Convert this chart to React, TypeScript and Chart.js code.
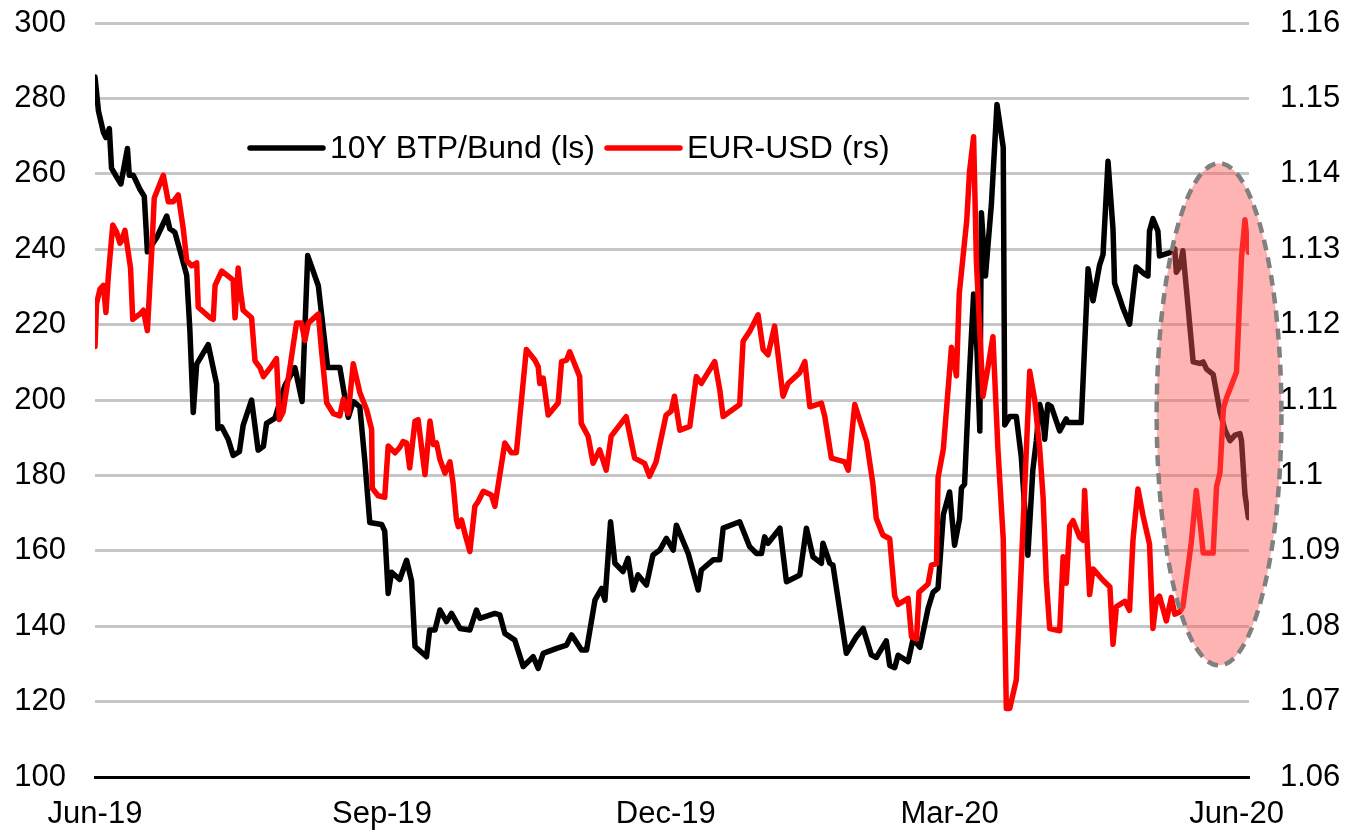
import { useEffect, useRef } from 'react';
import { Chart, registerables } from 'chart.js';

Chart.register(...registerables);

const FONT = "'Liberation Sans', Arial, Helvetica, sans-serif";

// x values are days counted from 1 Jun 2019
const xTickDays = [0, 92, 183, 274, 366];
const xTickLabels = ['Jun-19', 'Sep-19', 'Dec-19', 'Mar-20', 'Jun-20'];
const leftTicks = [100, 120, 140, 160, 180, 200, 220, 240, 260, 280, 300];
const rightTicks = [1.06, 1.07, 1.08, 1.09, 1.1, 1.11, 1.12, 1.13, 1.14, 1.15, 1.16];
const seriesLabels = ['10Y BTP/Bund (ls)', 'EUR-USD (rs)'];

// 10Y BTP/Bund spread, bp (left scale): [day, value]
const btpPoints: [number, number][] = [
  [0, 285.7], [1.1, 276.7], [2.7, 271.0], [3.5, 269.6], [4.6, 272.0], [5.3, 261.5], [6.9, 259.2],
  [8.3, 257.3], [10.4, 266.7], [11.0, 259.6], [12.3, 259.6], [14.4, 255.9], [15.8, 254.0], [16.8, 239.3],
  [19.8, 243.1], [23.0, 248.8], [24.0, 245.4], [25.6, 244.5], [27.2, 239.8], [29.4, 233.1], [30.4, 218.9],
  [31.5, 196.7], [32.6, 209.5], [36.3, 214.7], [39.0, 204.2], [39.4, 192.4], [40.6, 192.9], [42.7, 189.6],
  [44.3, 185.3], [46.3, 186.3], [47.5, 193.3], [50.2, 200.0], [52.3, 186.7], [54.0, 187.7], [55.0, 193.8],
  [57.7, 195.2], [60.9, 203.9], [64.1, 208.6], [66.4, 199.6], [68.2, 238.3], [71.6, 230.3], [74.6, 208.6],
  [78.5, 208.6], [81.2, 195.4], [82.8, 199.6], [84.9, 198.2], [86.5, 184.0], [88.1, 167.5], [91.9, 167.0],
  [92.9, 165.2], [94.0, 148.7], [95.1, 154.3], [97.7, 152.4], [99.9, 157.5], [101.5, 152.0], [102.6, 134.6],
  [106.3, 131.9], [107.3, 139.0], [109.0, 139.0], [110.6, 144.3], [112.7, 141.2], [114.3, 143.4], [117.0, 139.4],
  [120.2, 139.0], [122.3, 144.3], [123.4, 142.1], [128.2, 143.4], [129.8, 143.0], [131.4, 138.1], [134.6, 136.3],
  [137.3, 129.3], [140.5, 131.9], [142.1, 128.8], [143.7, 132.8], [148.0, 134.1], [151.2, 135.0], [152.8, 137.7],
  [156.0, 133.7], [157.6, 133.7], [160.3, 146.9], [162.4, 150.0], [163.5, 146.9], [165.3, 167.7], [166.7, 156.7],
  [169.3, 154.5], [170.9, 158.0], [172.5, 149.6], [174.1, 153.6], [176.8, 150.9], [178.9, 158.9], [181.1, 160.2],
  [183.2, 163.3], [185.4, 160.2], [186.4, 166.8], [190.2, 159.3], [193.4, 149.6], [194.4, 154.9], [198.2, 157.6],
  [200.3, 157.6], [201.4, 166.0], [206.7, 167.7], [209.9, 161.1], [212.1, 159.3], [213.7, 159.3], [214.7, 163.7],
  [215.8, 162.0], [219.6, 166.0], [221.7, 151.8], [226.0, 153.6], [228.1, 166.0], [230.2, 158.4], [232.9, 156.7],
  [233.4, 162.0], [235.6, 156.7], [236.6, 156.2], [240.9, 132.8], [244.1, 137.2], [246.3, 139.4], [248.9, 132.4],
  [250.5, 131.7], [253.7, 136.1], [254.8, 129.6], [256.4, 129.0], [257.5, 132.3], [260.7, 130.6], [262.3, 136.6],
  [264.5, 134.4], [267.1, 144.7], [268.7, 149.0], [270.3, 150.1], [272.0, 169.6], [274.0, 175.6], [275.6, 161.5],
  [277.2, 168.5], [277.8, 176.6], [278.8, 177.7], [280.4, 207.5], [281.7, 228.1], [282.8, 212.9], [283.7, 191.8],
  [284.2, 249.7], [285.5, 232.9], [287.4, 251.9], [289.2, 278.4], [291.2, 267.0], [291.7, 193.4], [293.3, 195.6],
  [295.4, 195.6], [297.0, 184.8], [299.1, 158.8], [300.7, 181.5], [301.8, 189.1], [302.9, 198.8], [303.9, 195.6],
  [304.5, 189.6], [305.5, 198.8], [306.6, 198.3], [309.3, 191.8], [311.4, 195.0], [312.0, 194.0], [316.2, 194.0],
  [318.4, 234.8], [320.0, 226.3], [322.1, 235.8], [323.2, 238.6], [324.8, 263.3], [326.4, 245.3], [326.9, 231.0],
  [329.6, 224.4], [331.7, 220.1], [333.8, 235.3], [336.5, 233.4], [337.6, 232.9], [338.1, 244.8], [339.2, 248.1],
  [340.8, 244.8], [341.3, 238.2], [344.6, 239.1], [346.2, 240.1], [346.7, 233.9], [347.8, 235.3], [348.8, 239.6],
  [352.1, 210.1], [354.2, 209.7], [355.3, 210.1], [356.4, 208.2], [358.5, 206.8], [360.7, 196.8], [362.3, 192.1],
  [363.9, 189.2], [365.5, 190.7], [367.1, 191.1], [367.6, 189.2], [368.7, 175.0], [369.8, 168.8],
];

// EUR-USD (right scale): [day, value]
const eurPoints: [number, number][] = [
  [0, 1.1171], [0.5, 1.1228], [1.6, 1.1247], [2.7, 1.1252], [3.5, 1.1216], [4.3, 1.1266], [5.7, 1.1332],
  [6.9, 1.1323], [8.0, 1.1308], [8.5, 1.1311], [9.6, 1.1325], [11.4, 1.1275], [12.1, 1.1207], [14.4, 1.1214],
  [15.5, 1.1219], [16.8, 1.1192], [18.2, 1.1299], [19.0, 1.1368], [21.9, 1.1398], [23.5, 1.1363], [25.1, 1.1363],
  [26.7, 1.1372], [28.3, 1.1327], [29.4, 1.1285], [31.0, 1.1278], [32.6, 1.1282], [33.1, 1.1223], [36.9, 1.1209],
  [37.9, 1.1207], [38.5, 1.1252], [40.6, 1.1271], [42.2, 1.1266], [44.3, 1.1259], [44.9, 1.1209], [45.9, 1.1275],
  [46.7, 1.1242], [47.5, 1.1219], [50.2, 1.1209], [51.3, 1.1152], [52.9, 1.1143], [54.0, 1.1131], [56.6, 1.1145],
  [58.2, 1.1155], [59.1, 1.1074], [60.3, 1.1084], [62.5, 1.1143], [64.6, 1.1202], [66.2, 1.1202], [67.3, 1.1179],
  [68.4, 1.1202], [71.6, 1.1214], [72.6, 1.1167], [74.3, 1.1096], [76.4, 1.1082], [78.5, 1.1079], [79.6, 1.1101],
  [81.2, 1.1082], [82.8, 1.1148], [84.9, 1.1110], [87.1, 1.1087], [88.7, 1.1061], [88.9, 1.0983], [90.8, 1.0973],
  [92.9, 1.0971], [94.0, 1.1039], [96.2, 1.1030], [97.7, 1.1037], [98.8, 1.1045], [99.9, 1.1043], [100.9, 1.1010],
  [102.6, 1.1072], [103.6, 1.1074], [105.8, 1.1001], [107.4, 1.1072], [108.5, 1.1041], [109.5, 1.1043],
  [110.6, 1.1021], [112.2, 1.1003], [113.8, 1.1018], [114.8, 1.0990], [115.9, 1.0941], [116.5, 1.0932],
  [117.5, 1.0941], [118.6, 1.0923], [120.2, 1.0899], [121.8, 1.0959], [122.8, 1.0965], [124.5, 1.0979],
  [127.1, 1.0974], [128.2, 1.0959], [131.4, 1.1043], [133.5, 1.1030], [135.1, 1.1030], [138.3, 1.1167],
  [141.0, 1.1153], [142.1, 1.1144], [142.6, 1.1122], [143.7, 1.1129], [145.3, 1.1080], [148.5, 1.1096],
  [149.6, 1.1151], [151.2, 1.1153], [152.2, 1.1164], [155.4, 1.1131], [155.9, 1.1069], [158.1, 1.1052],
  [159.7, 1.1016], [161.8, 1.1034], [163.9, 1.1007], [165.5, 1.1052], [170.3, 1.1078], [173.0, 1.1023],
  [176.2, 1.1016], [177.8, 1.0999], [179.9, 1.1018], [183.1, 1.1080], [184.7, 1.1085], [185.8, 1.1105],
  [187.5, 1.1060], [190.7, 1.1065], [192.8, 1.1131], [194.4, 1.1122], [198.7, 1.1151], [200.3, 1.1114],
  [201.4, 1.1078], [206.7, 1.1094], [207.8, 1.1178], [209.9, 1.1191], [212.6, 1.1213], [214.2, 1.1167],
  [215.8, 1.1160], [217.9, 1.1198], [220.6, 1.1105], [222.2, 1.1122], [225.9, 1.1136], [227.6, 1.1151],
  [229.2, 1.1091], [232.9, 1.1096], [234.0, 1.1078], [236.1, 1.1023], [240.4, 1.1018], [241.5, 1.1007],
  [243.6, 1.1094], [247.4, 1.1045], [249.4, 1.0989], [250.5, 1.0943], [252.6, 1.0921], [254.8, 1.0916],
  [256.4, 1.0840], [257.5, 1.0829], [260.7, 1.0837], [261.8, 1.0786], [263.4, 1.0783], [264.2, 1.0845],
  [267.1, 1.0856], [268.2, 1.0881], [269.8, 1.0883], [270.3, 1.0997], [272.0, 1.1035], [274.6, 1.1170],
  [276.2, 1.1132], [277.1, 1.1241], [279.5, 1.1338], [280.4, 1.1403], [281.7, 1.1449], [282.6, 1.1284],
  [284.7, 1.1105], [286.3, 1.1143], [287.9, 1.1184], [289.5, 1.1035], [291.2, 1.0916], [292.2, 1.0691],
  [293.3, 1.0691], [295.4, 1.0729], [297.6, 1.0937], [299.7, 1.1138], [301.3, 1.1100], [302.9, 1.1035],
  [304.0, 1.0970], [305.0, 1.0862], [306.1, 1.0797], [309.3, 1.0794], [310.4, 1.0892], [311.4, 1.0857],
  [312.5, 1.0933], [313.6, 1.0940], [315.7, 1.0918], [316.8, 1.0914], [317.3, 1.0980], [318.9, 1.0842],
  [320.0, 1.0876], [323.2, 1.0861], [325.4, 1.0852], [326.4, 1.0776], [327.5, 1.0826], [330.2, 1.0833],
  [331.7, 1.0821], [332.8, 1.0914], [334.4, 1.0982], [336.0, 1.0947], [338.1, 1.0909], [339.2, 1.0797],
  [340.3, 1.0835], [341.3, 1.0840], [343.5, 1.0807], [345.1, 1.0838], [346.2, 1.0816], [347.8, 1.0819],
  [348.8, 1.0826], [351.5, 1.0911], [353.1, 1.0980], [354.7, 1.0923], [355.3, 1.0897], [358.5, 1.0897],
  [359.6, 1.0985], [360.7, 1.1004], [361.8, 1.1089], [362.8, 1.1103], [366.0, 1.1137], [367.6, 1.1289],
  [368.7, 1.1339], [369.8, 1.1296],
];

// highlighted period (ellipse) in data units of x / left scale
const highlight = { centerDay: 360.4, centerSpread: 196.2, halfDays: 20.0, halfSpread: 66.6 };

const insideLegend = {
  id: 'insideLegend',
  afterDatasetsDraw(chart: any) {
    const { ctx, chartArea } = chart;
    const y = chartArea.top + 125;
    let x = chartArea.left + 155;
    ctx.save();
    ctx.font = `32px ${FONT}`;
    ctx.textBaseline = 'middle';
    ctx.textAlign = 'left';
    chart.data.datasets.forEach((ds: any) => {
      ctx.strokeStyle = ds.borderColor;
      ctx.lineWidth = 5.5;
      ctx.lineCap = 'round';
      ctx.beginPath();
      ctx.moveTo(x, y);
      ctx.lineTo(x + 73, y);
      ctx.stroke();
      ctx.fillStyle = '#000';
      ctx.fillText(ds.label, x + 80, y + 1);
      x += 80 + ctx.measureText(ds.label).width + 12;
    });
    ctx.restore();
  },
};

const highlightEllipse = {
  id: 'highlightEllipse',
  afterDraw(chart: any) {
    const { ctx } = chart;
    const xs = chart.scales.x;
    const ys = chart.scales.yL;
    const cx = xs.getPixelForValue(highlight.centerDay);
    const rx = xs.getPixelForValue(highlight.centerDay + highlight.halfDays) - cx;
    const cy = ys.getPixelForValue(highlight.centerSpread);
    const ry = cy - ys.getPixelForValue(highlight.centerSpread + highlight.halfSpread);
    ctx.save();
    ctx.beginPath();
    ctx.ellipse(cx, cy, rx, ry, 0, 0, Math.PI * 2);
    ctx.fillStyle = 'rgba(255, 88, 88, 0.45)';
    ctx.fill();
    ctx.setLineDash([11, 7]);
    ctx.lineWidth = 4.5;
    ctx.strokeStyle = '#808080';
    ctx.stroke();
    ctx.restore();
  },
};

export default function App() {
  const canvasRef = useRef<HTMLCanvasElement | null>(null);

  useEffect(() => {
    if (!canvasRef.current) return;
    const tickFont = { family: FONT, size: 31 };
    const fixY = (width: number) => (s: any) => {
      s.width = width;
      s.paddingTop = 0;
      s.paddingBottom = 0;
    };
    const chart = new Chart(canvasRef.current, {
      type: 'line',
      data: {
        datasets: [
          {
            label: seriesLabels[0],
            data: btpPoints.map(([x, y]) => ({ x, y })),
            borderColor: '#000000',
            borderWidth: 5.5,
            pointRadius: 0,
            borderJoinStyle: 'round',
            borderCapStyle: 'round',
            yAxisID: 'yL',
            order: 1,
          },
          {
            label: seriesLabels[1],
            data: eurPoints.map(([x, y]) => ({ x, y })),
            borderColor: '#ff0000',
            borderWidth: 5.5,
            pointRadius: 0,
            borderJoinStyle: 'round',
            borderCapStyle: 'round',
            yAxisID: 'yR',
            order: 0,
          },
        ],
      },
      options: {
        animation: false,
        responsive: true,
        maintainAspectRatio: false,
        layout: { padding: { top: 23, left: 0, right: 0, bottom: 0 } },
        plugins: { legend: { display: false }, tooltip: { enabled: false } },
        scales: {
          x: {
            type: 'linear',
            min: 0,
            max: 370,
            grid: { display: false, drawTicks: false },
            border: { display: true, color: '#000000', width: 3 },
            afterBuildTicks: (s: any) => {
              s.ticks = xTickDays.map((v) => ({ value: v }));
            },
            afterFit: (s: any) => {
              s.height = 57;
            },
            ticks: {
              autoSkip: false,
              maxRotation: 0,
              padding: 19,
              color: '#000000',
              font: tickFont,
              callback: (v: any) => {
                const i = xTickDays.indexOf(Number(v));
                return i >= 0 ? xTickLabels[i] : '';
              },
            },
          },
          yL: {
            type: 'linear',
            position: 'left',
            min: 100,
            max: 300,
            grid: { color: '#c6c6c6', lineWidth: 3, drawTicks: false },
            border: { display: false },
            afterBuildTicks: (s: any) => {
              s.ticks = leftTicks.map((v) => ({ value: v }));
            },
            afterFit: fixY(95),
            ticks: { padding: 29, color: '#000000', font: tickFont },
          },
          yR: {
            type: 'linear',
            position: 'right',
            min: 1.06,
            max: 1.16,
            grid: { display: false, drawTicks: false },
            border: { display: false },
            afterBuildTicks: (s: any) => {
              s.ticks = rightTicks.map((v) => ({ value: v }));
            },
            afterFit: fixY(99),
            ticks: {
              padding: 31,
              color: '#000000',
              font: tickFont,
              callback: (v: any) => String(Number(Number(v).toFixed(2))),
            },
          },
        },
      },
      plugins: [insideLegend, highlightEllipse],
    } as any);
    return () => chart.destroy();
  }, []);

  return (
    <div style={{ position: 'fixed', left: 0, top: 0, width: 1348, height: 834, background: '#ffffff' }}>
      <canvas ref={canvasRef} />
    </div>
  );
}
